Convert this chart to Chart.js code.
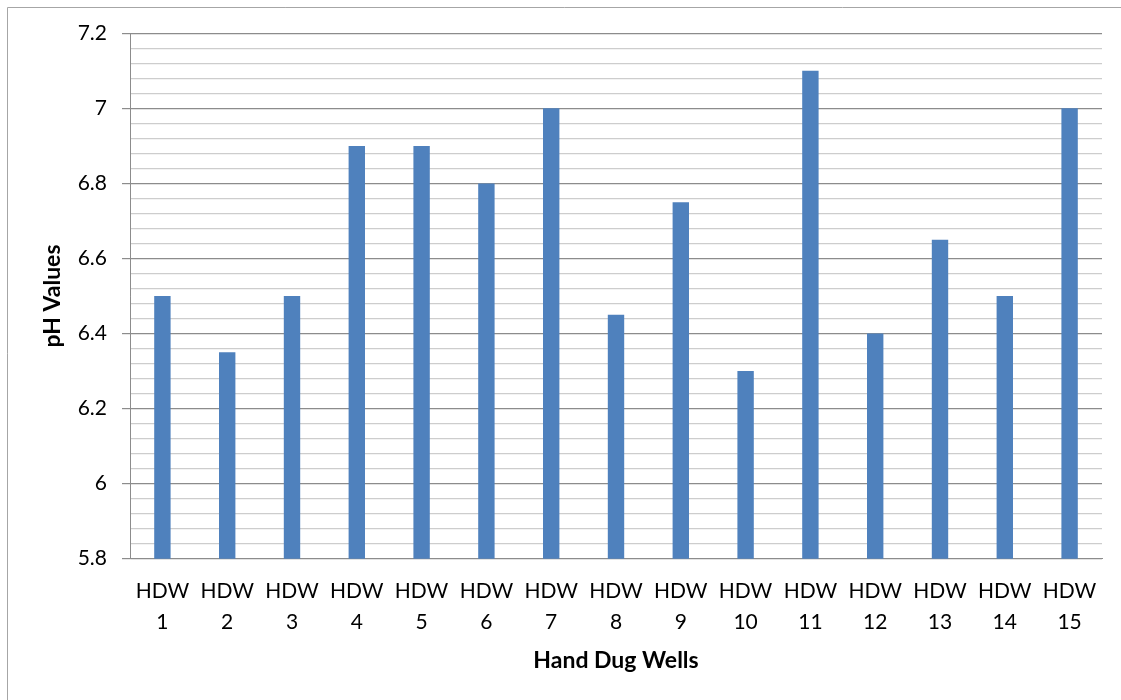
<!DOCTYPE html>
<html>
<head>
<meta charset="utf-8">
<title>pH Values of Hand Dug Wells</title>
<script src="https://cdn.jsdelivr.net/npm/chart.js@4.4.1/dist/chart.umd.min.js"></script>
<style>
  html, body { margin: 0; padding: 0; background: #ffffff; }
  #wrap { width: 1121px; height: 700px; position: relative; }
</style>
</head>
<body>
<div id="wrap"><canvas id="chart" width="1121" height="700"></canvas></div>
<script>
// Sampled wells and their measured pH
const categories = ['HDW 1', 'HDW 2', 'HDW 3', 'HDW 4', 'HDW 5', 'HDW 6', 'HDW 7', 'HDW 8',
                    'HDW 9', 'HDW 10', 'HDW 11', 'HDW 12', 'HDW 13', 'HDW 14', 'HDW 15'];
const phValues = [6.5, 6.35, 6.5, 6.9, 6.9, 6.8, 7.0, 6.45, 6.75, 6.3, 7.1, 6.4, 6.65, 6.5, 7.0];

// Value axis: labelled every 0.2, light guide lines every 0.04
const yTickLabels = ['5.8', '6', '6.2', '6.4', '6.6', '6.8', '7', '7.2'];
const yMin = 5.8;
const yMax = 7.2;
const majorStep = 0.2;
const minorStep = 0.04;

const FONT = 'Lato, "Open Sans", "DejaVu Sans", sans-serif';

function majorIndex(value) {
  const k = (value - yMin) / majorStep;
  const r = Math.round(k);
  return Math.abs(k - r) < 1e-6 ? r : -1;
}

// Thin frame around the whole chart
const frame = {
  id: 'frame',
  beforeDraw(chart) {
    const c = chart.ctx;
    c.save();
    c.fillStyle = '#ffffff';
    c.fillRect(0, 0, chart.width, chart.height);
    c.strokeStyle = '#a6a6a6';
    c.lineWidth = 1;
    c.beginPath();
    c.moveTo(7.5, chart.height);
    c.lineTo(7.5, 7.5);
    c.lineTo(chart.width, 7.5);
    c.stroke();
    c.restore();
  }
};

function build() {
  new Chart(document.getElementById('chart'), {
    type: 'bar',
    data: {
      labels: categories.map(s => s.split(' ')),
      datasets: [{
        label: 'pH',
        data: phValues,
        backgroundColor: '#4f81bd',
        borderWidth: 0,
        categoryPercentage: 1,
        barPercentage: 0.253
      }]
    },
    options: {
      responsive: false,
      animation: false,
      layout: { padding: { top: 33.3, right: 19, left: 0, bottom: 0 } },
      plugins: { legend: { display: false }, tooltip: { enabled: false } },
      scales: {
        x: {
          offset: true,
          grid: { display: false, drawTicks: false },
          border: { display: true, color: '#8c8c8c', width: 1 },
          ticks: {
            color: '#000000',
            font: { family: FONT, size: 21, lineHeight: 1.476 },
            padding: 17,
            maxRotation: 0,
            autoSkip: false
          },
          title: {
            display: true,
            text: 'Hand Dug Wells',
            color: '#000000',
            font: { family: FONT, size: 23, weight: 'bold', lineHeight: 1.2 },
            padding: { top: 0, bottom: 26 }
          },
          afterFit(scale) { scale.height = 700 - 558.7; }
        },
        y: {
          min: yMin,
          max: yMax,
          grid: {
            color: ctx => majorIndex(ctx.tick.value) >= 0 ? '#8c8c8c' : '#cdcdcd',
            tickColor: ctx => majorIndex(ctx.tick.value) >= 0 ? '#8c8c8c' : 'rgba(0,0,0,0)',
            lineWidth: 1.2,
            tickLength: 8,
            drawTicks: true
          },
          border: { display: true, color: '#8c8c8c', width: 1 },
          ticks: {
            stepSize: minorStep,
            autoSkip: false,
            color: '#000000',
            font: { family: FONT, size: 21 },
            padding: 15,
            callback(value) {
              const i = majorIndex(value);
              return i >= 0 ? yTickLabels[i] : '';
            }
          },
          title: {
            display: true,
            text: 'pH Values',
            color: '#000000',
            font: { family: FONT, size: 23, weight: 'bold', lineHeight: 1.2 },
            padding: { top: 39, bottom: 0 }
          },
          afterFit(scale) { scale.width = 130; }
        }
      }
    },
    plugins: [frame]
  });
}

if (document.fonts && document.fonts.load) {
  Promise.all([
    document.fonts.load('21px Lato'),
    document.fonts.load('bold 23px Lato')
  ]).then(build, build);
} else {
  build();
}
</script>
</body>
</html>
